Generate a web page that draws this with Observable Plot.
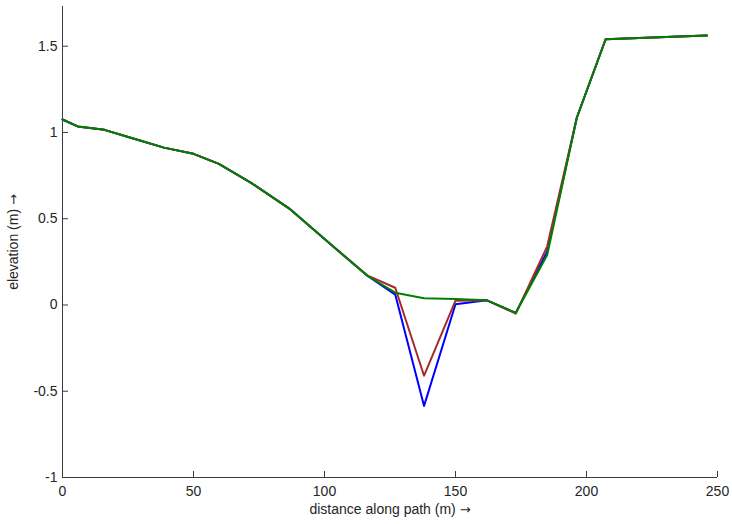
<!DOCTYPE html>
<html>
<head>
<meta charset="utf-8">
<script src="https://cdn.jsdelivr.net/npm/d3@7"></script>
<script src="https://cdn.jsdelivr.net/npm/@observablehq/plot@0.6"></script>
<style>
  html, body { margin: 0; padding: 0; background: #fff; }
</style>
</head>
<body>
<div id="chart"></div>
<script>
const distance   = [0, 5.8, 16, 27, 38.7, 50, 59.7, 72, 87, 104, 116.5, 127, 138, 150, 162, 173, 185, 196.3, 207.3, 238, 246];
const elevGreen  = [1.075, 1.035, 1.015, 0.965, 0.912, 0.876, 0.818, 0.708, 0.554, 0.33, 0.168, 0.071, 0.039, 0.035, 0.027, -0.046, 0.29, 1.085, 1.54, 1.558, 1.562];
const elevBrown  = [1.075, 1.035, 1.015, 0.965, 0.912, 0.876, 0.818, 0.708, 0.554, 0.33, 0.17, 0.10, -0.41, 0.025, 0.027, -0.05, 0.34, 1.085, 1.54, 1.558, 1.562];
const elevBlue   = [1.075, 1.035, 1.015, 0.965, 0.912, 0.876, 0.818, 0.708, 0.554, 0.33, 0.168, 0.06, -0.585, 0.004, 0.027, -0.046, 0.31, 1.085, 1.54, 1.558, 1.562];
const xTicks = [0, 50, 100, 150, 200, 250];
const yTicks = [-1, -0.5, 0, 0.5, 1, 1.5];
const seriesNames = ["blue", "brown", "green"];
const seriesColors = ["#1414d2", "#a3501f", "#1e8a1e"];
const xLabel = "distance along path (m)";
const yLabel = "elevation (m)";

const rows = [];
[elevBlue, elevBrown, elevGreen].forEach((arr, s) => {
  distance.forEach((d, i) => rows.push({series: seriesNames[s], distance: d, elevation: arr[i]}));
});

const axisColor = "#3c3c3c";

const chart = Plot.plot({
  width: 732,
  height: 524,
  marginLeft: 62,
  marginRight: 15,
  marginTop: 6,
  marginBottom: 47,
  style: {fontFamily: "'Liberation Sans', Arial, sans-serif", fontSize: "14px", color: "#262626", background: "#fff"},
  x: {domain: [0, 250]},
  y: {domain: [-1, 1.73]},
  color: {domain: seriesNames, range: seriesColors},
  marks: [
    Plot.ruleX([0], {stroke: axisColor}),
    Plot.ruleY([-1], {stroke: axisColor}),
    Plot.axisX({ticks: xTicks, tickSize: -6, tickPadding: 15, stroke: axisColor, tickFormat: d => String(d),
      label: xLabel + " →", labelAnchor: "center", labelArrow: "none", labelOffset: 36}),
    Plot.axisY({ticks: yTicks, tickSize: -6, tickPadding: 11, stroke: axisColor, tickFormat: d => String(d),
      label: yLabel + " →", labelAnchor: "center", labelArrow: "none", labelOffset: 54}),
    Plot.line(rows, {x: "distance", y: "elevation", z: "series", stroke: "series", strokeWidth: 2})
  ]
});
document.getElementById("chart").appendChild(chart);

// render the arrow glyph in a font where it is full size
for (const [sel, base] of [["x-axis label", xLabel], ["y-axis label", yLabel]]) {
  const g = chart.querySelector(`g[aria-label="${sel}"]`);
  if (!g) continue;
  const t = g.querySelector("text");
  if (!t) continue;
  t.textContent = "";
  const s1 = document.createElementNS("http://www.w3.org/2000/svg", "tspan");
  s1.textContent = base + " ";
  const s2 = document.createElementNS("http://www.w3.org/2000/svg", "tspan");
  s2.textContent = "→";
  s2.setAttribute("font-family", "'DejaVu Sans'");
  s2.setAttribute("font-size", "13px");
  t.appendChild(s1);
  t.appendChild(s2);
}
</script>
</body>
</html>
